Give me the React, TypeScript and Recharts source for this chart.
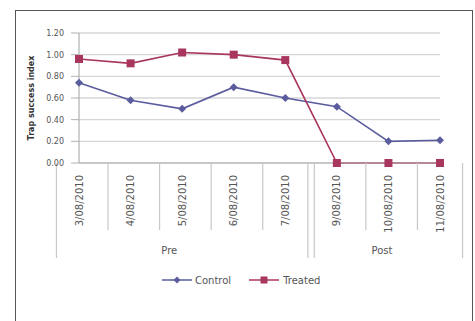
import React from 'react';
import { ComposedChart, Line, XAxis, YAxis, CartesianGrid, Legend } from 'recharts';

const categories = ['3/08/2010', '4/08/2010', '5/08/2010', '6/08/2010', '7/08/2010', '9/08/2010', '10/08/2010', '11/08/2010'];
const controlValues = [0.74, 0.58, 0.5, 0.7, 0.6, 0.52, 0.2, 0.21];
const treatedValues = [0.96, 0.92, 1.02, 1.0, 0.95, 0, 0, 0];
const groupLabels = ['Pre', 'Post'];
const groupSizes = [5, 3];
const yTicks = [0, 0.2, 0.4, 0.6, 0.8, 1.0, 1.2];

const CONTROL = '#5a5c9e';
const TREATED = '#a8365e';
const FONT = '"DejaVu Sans", sans-serif';

// per-category group info
const groupStart: number[] = [];
const groupOf: number[] = [];
{
  let idx = 0;
  groupSizes.forEach((s, g) => {
    groupStart.push(idx);
    for (let i = 0; i < s; i++) groupOf.push(g);
    idx += s;
  });
}

const data = categories.map((c, i) => ({
  date: c,
  Control: controlValues[i],
  Treated: treatedValues[i],
}));

const PLOT_W = 361;
const CategoryTick = (props: any) => {
  const { x, y, payload, index } = props;
  const half = payload && payload.offset ? payload.offset : PLOT_W / categories.length / 2;
  const g = groupOf[index];
  const isFirst = groupStart[g] === index;
  const isLast = index === groupStart[g] + groupSizes[g] - 1;
  const longLen = 95;
  const shortLen = 67;
  const lineColor = '#c8c8c8';
  return (
    <g>
      <line x1={x - half} x2={x - half} y1={y} y2={y + (isFirst ? longLen : shortLen)} stroke={lineColor} strokeWidth={1.2} />
      {isLast && (
        <line x1={x + half} x2={x + half} y1={y} y2={y + longLen} stroke={lineColor} strokeWidth={1.2} />
      )}
      <text
        x={0}
        y={0}
        transform={`translate(${x}, ${y + 12}) rotate(-90)`}
        textAnchor="end"
        dominantBaseline="central"
        fontSize={10}
        fontFamily={FONT}
        fill="#555"
      >
        {payload.value}
      </text>
      {isFirst && (
        <text
          x={x - half + groupSizes[g] * half}
          y={y + 87}
          textAnchor="middle"
          dominantBaseline="central"
          fontSize={10}
          fontFamily={FONT}
          fill="#555"
        >
          {groupLabels[g]}
        </text>
      )}
    </g>
  );
};

const Marker = ({ color, shape }: { color: string; shape: string }) => (
  <svg width={30} height={10} style={{ display: 'block' }}>
    <line x1={0} x2={30} y1={5} y2={5} stroke={color} strokeWidth={1.5} />
    {shape === 'diamond' ? (
      <polygon points="15,1.5 18.5,5 15,8.5 11.5,5" fill={color} />
    ) : (
      <rect x={11.5} y={1.5} width={7} height={7} fill={color} />
    )}
  </svg>
);

const LegendContent = () => (
  <div style={{ display: 'flex', alignItems: 'center', marginLeft: 162, height: 20, fontFamily: FONT, fontSize: 10, color: '#555' }}>
    <Marker color={CONTROL} shape="diamond" />
    <span style={{ marginLeft: 3, marginRight: 18 }}>Control</span>
    <Marker color={TREATED} shape="square" />
    <span style={{ marginLeft: 4 }}>Treated</span>
  </div>
);

const DiamondDot = (props: any) => {
  const { cx, cy } = props;
  if (cx == null || cy == null) return null;
  return <polygon points={`${cx},${cy - 4} ${cx + 4},${cy} ${cx},${cy + 4} ${cx - 4},${cy}`} fill={CONTROL} />;
};
const SquareDot = (props: any) => {
  const { cx, cy } = props;
  if (cx == null || cy == null) return null;
  return <rect x={cx - 4} y={cy - 4} width={8} height={8} fill={TREATED} />;
};

export default function App() {
  return (
    <div style={{ position: 'absolute', left: 0, top: 0, width: 475, height: 321, background: '#fff', overflow: 'hidden' }}>
      <div
        style={{
          position: 'absolute',
          left: 15,
          top: 10,
          width: 456,
          height: 340,
          border: '1.5px solid #555',
        }}
      />
      <div style={{ position: 'absolute', left: 0, top: 0 }}>
        <ComposedChart width={475} height={321} data={data} margin={{ top: 33, right: 35, left: 0, bottom: 31 }}>
          <CartesianGrid vertical={false} stroke="#d6d6d6" strokeWidth={1.3} />
          <XAxis
            dataKey="date"
            height={107}
            interval={0}
            tickSize={0}
            tickMargin={0}
            tickLine={false}
            axisLine={{ stroke: '#b0b0b0', strokeWidth: 1.2 }}
            tick={<CategoryTick />}
          />
          <YAxis
            width={79}
            domain={[0, 1.2]}
            ticks={yTicks}
            interval={0}
            tickSize={8}
            tickMargin={7}
            tickFormatter={(v: number) => v.toFixed(2)}
            tick={{ fontSize: 8, fontFamily: FONT, fill: '#555' }}
            tickLine={{ stroke: '#b0b0b0' }}
            axisLine={{ stroke: '#b0b0b0', strokeWidth: 1.2 }}
            label={(p: any) => {
              const vb = p.viewBox;
              return (
                <text
                  x={0}
                  y={0}
                  transform={`translate(${vb.x + 31}, ${vb.y + vb.height / 2}) rotate(-90)`}
                  textAnchor="middle"
                  dominantBaseline="central"
                  fontSize={8}
                  fontWeight="bold"
                  fontFamily={FONT}
                  fill="#333"
                >
                  Trap success index
                </text>
              );
            }}
          />
          <Legend
            verticalAlign="bottom"
            content={<LegendContent />}
            wrapperStyle={{ left: 0, width: 475, height: 20 }}
          />
          <Line
            dataKey="Control"
            stroke={CONTROL}
            strokeWidth={1.6}
            dot={<DiamondDot />}
            activeDot={false}
            isAnimationActive={false}
          />
          <Line
            dataKey="Treated"
            stroke={TREATED}
            strokeWidth={1.6}
            dot={<SquareDot />}
            activeDot={false}
            isAnimationActive={false}
          />
        </ComposedChart>
      </div>
    </div>
  );
}
